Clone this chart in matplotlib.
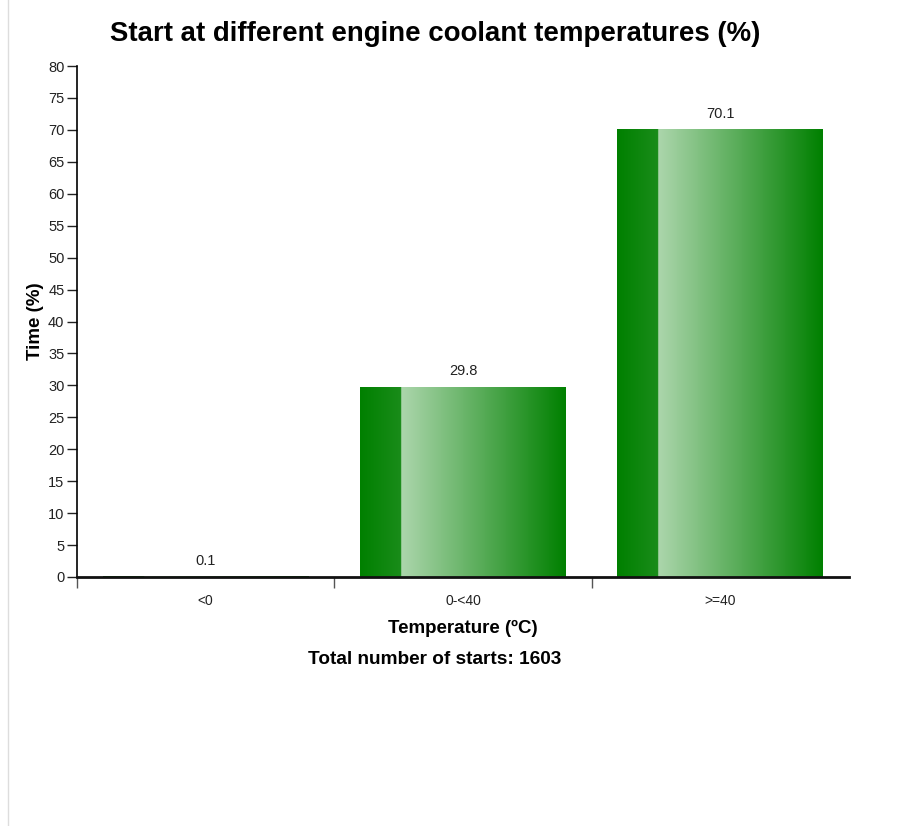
import numpy as np
import matplotlib
matplotlib.use("Agg")
import matplotlib.pyplot as plt
from matplotlib.colors import to_rgb
from matplotlib.lines import Line2D

plt.rcParams['font.family'] = ['Liberation Sans', 'DejaVu Sans']

categories = ["<0", "0-<40", ">=40"]
values = [0.1, 29.8, 70.1]
value_labels = ["0.1", "29.8", "70.1"]
y_ticks = list(range(0, 81, 5))

title = "Start at different engine coolant temperatures (%)"
xlabel = "Temperature (ºC)"
ylabel = "Time (%)"
footer = "Total number of starts: 1603"

fig = plt.figure(figsize=(9.1, 8.26), dpi=100)
ax = fig.add_axes([77/910, 1-577/826, (849-77)/910, (577-66)/826])

x = np.arange(len(categories)) + 0.5
bars = ax.bar(x, values, width=0.8, color="#008000", edgecolor="none", zorder=2)

# horizontal gradient for bars
n = 400
grad = np.zeros((1, n, 3))
c_dark = np.array(to_rgb("#008000"))
c_mid = np.array(to_rgb("#1a8c1a"))
c_light = np.array(to_rgb("#acd6ac"))
for i in range(n):
    t = i / (n - 1)
    if t < 0.2:
        f = t / 0.2
        grad[0, i] = c_dark + (c_mid - c_dark) * f
    else:
        f = (t - 0.2) / 0.8
        grad[0, i] = c_light + (c_dark - c_light) * f

for b in bars:
    x0, y0 = b.get_x(), b.get_y()
    w, h = b.get_width(), b.get_height()
    im = ax.imshow(grad, extent=[x0, x0 + w, y0, y0 + h], aspect='auto',
                   interpolation='bilinear', zorder=3)
    im.set_clip_path(b)

for xi, v, lab in zip(x, values, value_labels):
    ax.annotate(lab, (xi, v), xytext=(0, 6), textcoords='offset points',
                ha='center', va='bottom', fontsize=10.5, color='#222222')

ax.set_xlim(0, len(categories))
ax.set_ylim(0, 80)
ax.set_yticks(y_ticks)
ax.set_yticklabels([str(t) for t in y_ticks], fontsize=10.5, color='#222222')
ax.tick_params(axis='y', length=7, width=1, pad=2, color='#222222')

ax.set_xticks(x)
ax.set_xticklabels(categories, fontsize=10, color='#222222')
ax.tick_params(axis='x', length=0, pad=12)
ax.set_xticks(np.arange(len(categories)), minor=True)
ax.tick_params(axis='x', which='minor', length=8, width=1, color='#555555')

for s in ['top', 'right']:
    ax.spines[s].set_visible(False)
ax.spines['left'].set_linewidth(1.2)
ax.spines['bottom'].set_linewidth(2)
ax.spines['bottom'].set_color('#111111')
ax.spines['bottom'].set_zorder(5)

ax.set_xlabel(xlabel, fontsize=13.5, fontweight='bold', labelpad=9)
ax.set_ylabel(ylabel, fontsize=13.5, fontweight='bold', labelpad=3)

fig.text(435/910, 1-34/826, title, ha='center', va='center',
         fontsize=19.9, fontweight='bold')
fig.text(435/910, 1-659/826, footer, ha='center', va='center',
         fontsize=13.7, fontweight='bold')

fig.add_artist(Line2D([8/910, 8/910], [0, 1], transform=fig.transFigure,
                      color='#dddddd', linewidth=1))

fig.savefig("out.png", dpi=100)
